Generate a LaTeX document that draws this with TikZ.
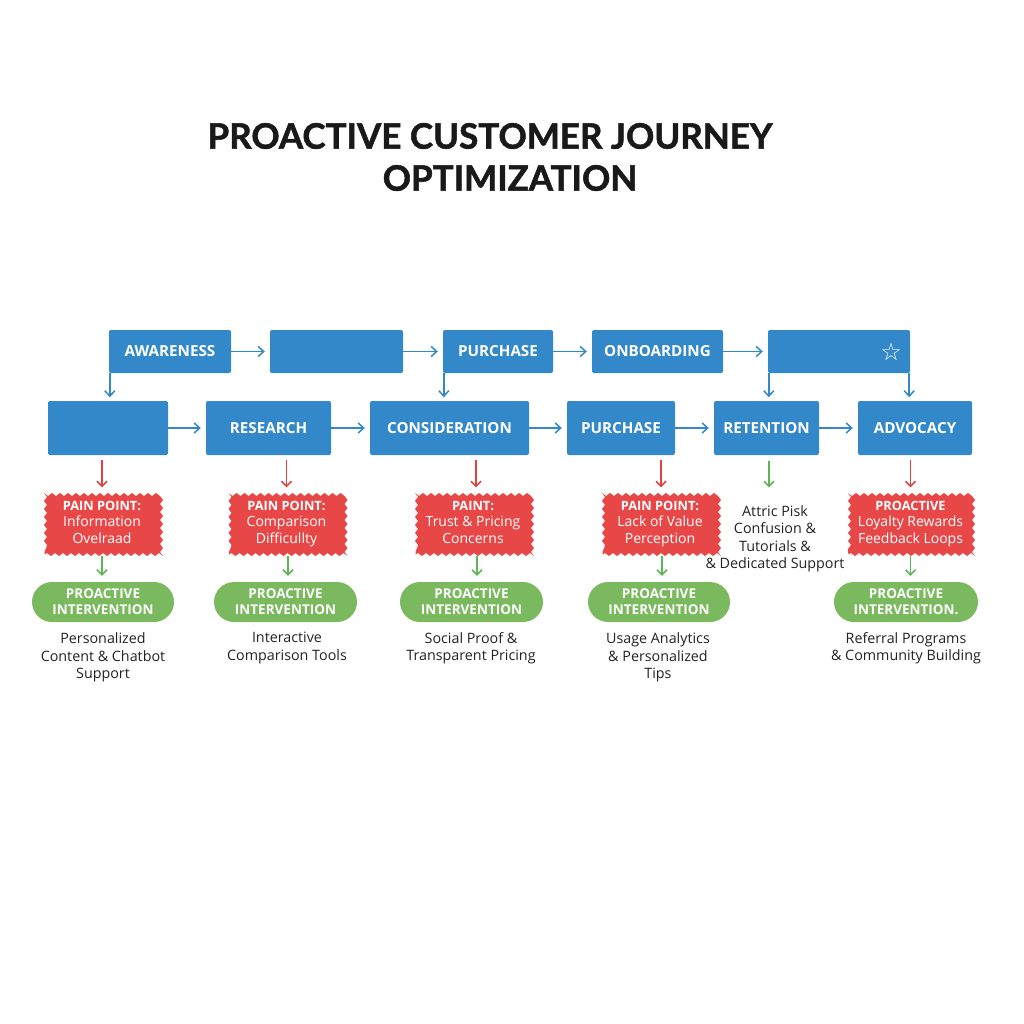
\documentclass[tikz,border=0pt]{standalone}
\usepackage{fontspec}
\setmainfont{Open Sans}
\newfontfamily\titlefont[BoldFeatures={FakeBold=1.5}]{Lato}
\newfontfamily\starfont{DejaVu Sans}
\usetikzlibrary{arrows.meta,decorations.pathmorphing}
\definecolor{stageblue}{HTML}{3388CA}
\definecolor{painred}{HTML}{E84747}
\definecolor{fixgreen}{HTML}{7BB95E}
\definecolor{linkred}{HTML}{DC4444}
\definecolor{linkgreen}{HTML}{5DB553}
\definecolor{inkdark}{HTML}{222222}
\newcommand{\painhead}[1]{{\fontsize{12.8}{16.5}\selectfont\bfseries #1}}
\tikzset{
  stage/.style={fill=stageblue, text=white, rounded corners=2pt, minimum height=#1,
    inner sep=0pt, font=\fontsize{15.2}{17}\selectfont\bfseries},
  pain/.style={fill=painred, text=white, align=center, inner sep=0pt, minimum height=61pt,
    text depth=4pt, font=\fontsize{14}{16.5}\selectfont,
    decorate, decoration={snake, segment length=8pt, amplitude=1.5pt}},
  fix/.style={fill=fixgreen, text=white, align=center, rounded corners=20pt, inner sep=0pt,
    minimum height=40pt, font=\fontsize{13.5}{16}\selectfont\bfseries},
  note/.style={text=inkdark, align=center, inner sep=0pt, text depth=4pt,
    font=\fontsize{14.3}{17.5}\selectfont},
  headline/.style={inner sep=0pt, text=black!90, font=\fontsize{35}{38}\selectfont\titlefont\bfseries},
  flow/.style={draw=stageblue, line width=1.5pt, -{Straight Barb[length=5.5pt,width=10pt]}},
  hurt/.style={draw=linkred, line width=1.5pt, -{Straight Barb[length=5pt,width=10pt]}},
  help/.style={draw=linkgreen, line width=1.5pt, -{Straight Barb[length=5pt,width=10pt]}},
}
\begin{document}
\begin{tikzpicture}[x=1pt, y=-1pt]
\def\ytop{351.5}
\def\ymid{428}
\def\ypain{524}
\def\yfix{602}
\def\ynote{658}

\useasboundingbox (0,0) rectangle (1024,1024);

\node [headline] (titleA) at (490,136) {PROACTIVE CUSTOMER JOURNEY};
\node [headline] (titleB) at (510,178) {OPTIMIZATION};

\node [stage=43pt, minimum width=122pt] (awareness) at (170,\ytop) {AWARENESS};
\node [stage=43pt, minimum width=133pt] (blankA) at (336.5,\ytop) {};
\node [stage=43pt, minimum width=110pt] (buy) at (498,\ytop) {PURCHASE};
\node [stage=43pt, minimum width=131pt] (onboarding) at (657.5,\ytop) {ONBOARDING};
\node [stage=43pt, minimum width=142pt] (blankB) at (839,\ytop) {};
\node [text=white, inner sep=0pt, font=\fontsize{24}{24}\selectfont\starfont] (star) at (891,352) {☆};

\node [stage=54pt, minimum width=120pt] (blankC) at (108,\ymid) {};
\node [stage=54pt, minimum width=125pt] (research) at (268.5,\ymid) {RESEARCH};
\node [stage=54pt, minimum width=159pt] (consideration) at (449.5,\ymid) {CONSIDERATION};
\node [stage=54pt, minimum width=108pt] (purchase) at (621,\ymid) {PURCHASE};
\node [stage=54pt, minimum width=105pt] (retention) at (766.5,\ymid) {RETENTION};
\node [stage=54pt, minimum width=114pt] (advocacy) at (915,\ymid) {ADVOCACY};

\node [pain, minimum width=115pt] (painA) at (102,\ypain) {\painhead{PAIN POINT:}\\Information\\Ovelraad};
\node [pain, minimum width=115pt] (painB) at (286.5,\ypain) {\painhead{PAIN POINT:}\\Comparison\\Difficullty};
\node [pain, minimum width=115pt] (painC) at (473,\ypain) {\painhead{PAINT:}\\Trust \& Pricing\\Concerns};
\node [pain, minimum width=115pt] (painD) at (660,\ypain) {\painhead{PAIN POINT:}\\Lack of Value\\Perception};
\node [pain, minimum width=124pt] (painE) at (910.5,\ypain) {\painhead{PROACTIVE}\\Loyalty Rewards\\Feedback Loops};

\node [fix, minimum width=142pt] (fixA) at (103,\yfix) {PROACTIVE\\INTERVENTION};
\node [fix, minimum width=143pt] (fixB) at (285.5,\yfix) {PROACTIVE\\INTERVENTION};
\node [fix, minimum width=143pt] (fixC) at (471.5,\yfix) {PROACTIVE\\INTERVENTION};
\node [fix, minimum width=142pt] (fixD) at (659,\yfix) {PROACTIVE\\INTERVENTION};
\node [fix, minimum width=144pt] (fixE) at (906,\yfix) {PROACTIVE\\INTERVENTION.};

\node [note] (noteA) at (103,\ynote) {Personalized\\Content \& Chatbot\\Support};
\node [note, anchor=north] (noteB) at (287,632) {Interactive\\Comparison Tools};
\node [note, anchor=north] (noteC) at (471,632) {Social Proof \&\\Transparent Pricing};
\node [note] (noteD) at (658,\ynote) {Usage Analytics\\\& Personalized\\Tips};
\node [note, anchor=north] (noteE) at (906,632) {Referral Programs\\\& Community Building};
\node [note] (noteF) at (775,539) {Attric Pisk\\Confusion \&\\Tutorials \&\\\& Dedicated Support};

\foreach \src/\dst in {awareness/blankA, blankA/buy, buy/onboarding, onboarding/blankB,
  blankC/research, research/consideration, consideration/purchase, purchase/retention, retention/advocacy}
  \draw [flow, shorten >=5pt] (\src) -- (\dst);

\draw [flow, shorten >=3.5pt] ([xshift=1pt]awareness.south west) -- ([xshift=1pt]awareness.south west |- blankC.north);
\draw [flow, shorten >=3.5pt] ([xshift=1pt]buy.south west) -- ([xshift=1pt]buy.south west |- consideration.north);
\draw [flow, shorten >=3.5pt] ([xshift=1pt]blankB.south west) -- ([xshift=1pt]blankB.south west |- retention.north);
\draw [flow, shorten >=3.5pt] ([xshift=-1pt]blankB.south east) -- ([xshift=-1pt]blankB.south east |- advocacy.north);

\foreach \stg/\pn/\fx/\dr/\dg in {blankC/painA/fixA/0/0, research/painB/fixB/0/1.5, consideration/painC/fixC/3/4,
  purchase/painD/fixD/1/2, advocacy/painE/fixE/0/0}{
  \draw [hurt, shorten <=5pt, shorten >=6pt] ([xshift=\dr pt]\pn.north |- \stg.south) -- ([xshift=\dr pt]\pn.north);
  \draw [help, shorten <=1pt, shorten >=6pt] ([xshift=\dg pt]\pn.south) -- ([xshift=\dg pt]\pn.south |- \fx.north);
}
\draw [help, shorten <=6pt, shorten >=6pt] ([xshift=2.5pt]retention.south) -- ([xshift=2.5pt]retention.south |- painE.north);

\end{tikzpicture}
\end{document}
